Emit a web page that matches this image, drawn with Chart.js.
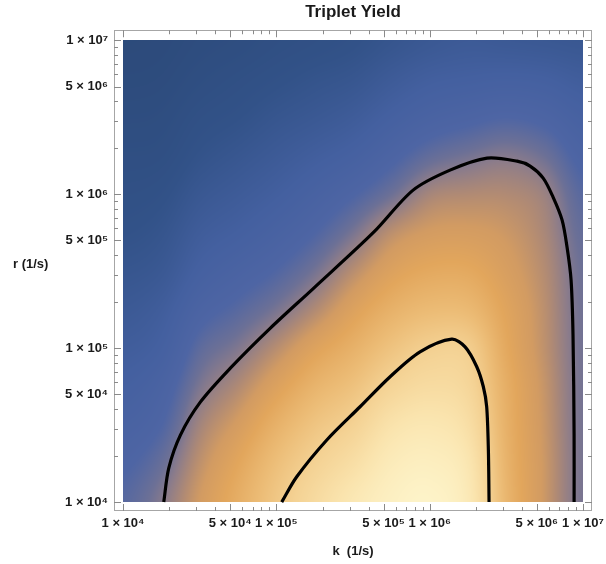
<!DOCTYPE html>
<html>
<head>
<meta charset="utf-8">
<title>Triplet Yield</title>
<script src="https://cdn.jsdelivr.net/npm/chart.js@4.4.1/dist/chart.umd.min.js"></script>
<style>
  html, body { margin: 0; padding: 0; background: #fff; }
  #wrap { width: 606px; height: 564px; }
</style>
</head>
<body>
<div id="wrap"><canvas id="myChart" width="606" height="564"></canvas></div>
<script>
// density grid, quarter-decade steps in k (columns) and r (rows, bottom to top)
const gridK = [1e4, 1.778e4, 3.162e4, 5.623e4, 1e5, 1.778e5, 3.162e5, 5.623e5, 1e6, 1.778e6, 3.162e6, 5.623e6, 1e7];
const gridR = [1e4, 1.778e4, 3.162e4, 5.623e4, 1e5, 1.778e5, 3.162e5, 5.623e5, 1e6, 1.778e6, 3.162e6, 5.623e6, 1e7];
const yieldGrid = [
  [0.42, 0.49, 0.60, 0.69, 0.78, 0.86, 0.93, 0.98, 1.00, 0.94, 0.72, 0.59, 0.475],
  [0.39, 0.45, 0.57, 0.66, 0.75, 0.82, 0.88, 0.95, 0.97, 0.92, 0.71, 0.59, 0.475],
  [0.35, 0.40, 0.53, 0.61, 0.70, 0.77, 0.82, 0.90, 0.925, 0.88, 0.70, 0.585, 0.472],
  [0.31, 0.36, 0.48, 0.55, 0.635, 0.71, 0.76, 0.83, 0.865, 0.84, 0.69, 0.58, 0.47],
  [0.27, 0.31, 0.43, 0.485, 0.56, 0.64, 0.70, 0.765, 0.81, 0.805, 0.67, 0.57, 0.468],
  [0.23, 0.27, 0.37, 0.42, 0.475, 0.55, 0.635, 0.70, 0.735, 0.73, 0.65, 0.565, 0.465],
  [0.19, 0.22, 0.31, 0.36, 0.405, 0.47, 0.56, 0.635, 0.67, 0.67, 0.62, 0.555, 0.46],
  [0.15, 0.18, 0.26, 0.30, 0.345, 0.40, 0.475, 0.565, 0.605, 0.61, 0.59, 0.54, 0.445],
  [0.12, 0.14, 0.21, 0.25, 0.29, 0.34, 0.395, 0.46, 0.535, 0.55, 0.55, 0.52, 0.42],
  [0.09, 0.10, 0.16, 0.20, 0.24, 0.28, 0.32, 0.38, 0.44, 0.47, 0.49, 0.46, 0.38],
  [0.06, 0.07, 0.12, 0.15, 0.19, 0.22, 0.255, 0.31, 0.355, 0.38, 0.40, 0.38, 0.33],
  [0.03, 0.04, 0.08, 0.11, 0.14, 0.17, 0.195, 0.245, 0.285, 0.30, 0.31, 0.30, 0.27],
  [0.01, 0.02, 0.05, 0.07, 0.10, 0.12, 0.145, 0.185, 0.22, 0.24, 0.23, 0.22, 0.21]
];

// contour lines
const outerK = [1.843e4, 1.987e4, 2.366e4, 3.19e4, 5.01e4, 9.14e4, 1.754e5, 4.315e5, 7.8e5, 1.358e6, 2.366e6, 3.715e6, 4.52e6, 5.5e6, 6.38e6, 7.31e6, 7.87e6, 8.36e6, 8.61e6, 8.75e6, 8.75e6];
const outerR = [1e4, 1.663e4, 2.723e4, 4.456e4, 7.41e4, 1.349e5, 2.455e5, 5.66e5, 1.062e6, 1.432e6, 1.714e6, 1.637e6, 1.521e6, 1.271e6, 9.57e5, 6.78e5, 4.53e5, 2.77e5, 1.213e5, 2.72e4, 1e4];
const innerK = [1.084e5, 1.358e5, 2.133e5, 3.516e5, 5.52e5, 8.65e5, 1.393e6, 1.702e6, 2.028e6, 2.239e6, 2.355e6, 2.415e6, 2.44e6];
const innerR = [1e4, 1.459e4, 2.53e4, 4.16e4, 6.52e4, 9.46e4, 1.143e5, 1.019e5, 7.57e4, 5.61e4, 4.16e4, 2.18e4, 1e4];

// tick labels
const kTickLabels = [1e4, 5e4, 1e5, 5e5, 1e6, 5e6, 1e7];
const rTickLabels = [1e4, 5e4, 1e5, 5e5, 1e6, 5e6, 1e7];

const FONT = "'Liberation Sans', Arial, sans-serif";
const kMin = 8.73e3, kMax = 1.145e7, rMin = 8.75e3, rMax = 1.16e7;

const colorStops = [
  [0.00, [44, 74, 122]],
  [0.15, [50, 82, 136]],
  [0.30, [68, 96, 160]],
  [0.40, [78, 101, 164]],
  [0.46, [108, 112, 150]],
  [0.50, [140, 124, 138]],
  [0.55, [176, 138, 116]],
  [0.60, [210, 155, 98]],
  [0.66, [226, 166, 92]],
  [0.74, [236, 188, 118]],
  [0.82, [244, 210, 148]],
  [0.91, [250, 228, 174]],
  [1.00, [253, 243, 200]]
];

function colorFor(v) {
  if (v <= colorStops[0][0]) return colorStops[0][1];
  for (let i = 1; i < colorStops.length; i++) {
    if (v <= colorStops[i][0]) {
      const a = colorStops[i - 1], b = colorStops[i];
      const t = (v - a[0]) / (b[0] - a[0]);
      return [0, 1, 2].map(c => a[1][c] + (b[1][c] - a[1][c]) * t);
    }
  }
  return colorStops[colorStops.length - 1][1];
}

function cubic(p0, p1, p2, p3, t) {
  return p1 + 0.5 * t * (p2 - p0 + t * (2 * p0 - 5 * p1 + 4 * p2 - p3 + t * (3 * (p1 - p2) + p3 - p0)));
}

function sampleYield(fx, fy) {
  const nx = gridK.length, ny = gridR.length;
  const cx = i => Math.max(0, Math.min(nx - 1, i));
  const cy = j => Math.max(0, Math.min(ny - 1, j));
  const ix = Math.max(0, Math.min(Math.floor(fx), nx - 2));
  const iy = Math.max(0, Math.min(Math.floor(fy), ny - 2));
  const tx = fx - ix, ty = fy - iy;
  const row = j => {
    const r = yieldGrid[cy(j)];
    return cubic(r[cx(ix - 1)], r[cx(ix)], r[cx(ix + 1)], r[cx(ix + 2)], tx);
  };
  return cubic(row(iy - 1), row(iy), row(iy + 1), row(iy + 2), ty);
}

const sup = { 4: '\u2074', 5: '\u2075', 6: '\u2076', 7: '\u2077' };
function sciLabel(v) {
  const e = Math.floor(Math.log10(v) + 1e-9);
  const m = Math.round(v / Math.pow(10, e));
  return m + ' \u00d7 10' + sup[e];
}

const allTicks = [];
for (let e = 4; e <= 6; e++) {
  for (let m = 1; m <= 9; m++) allTicks.push(m * Math.pow(10, e));
}
allTicks.push(1e7);

const isLabelled = (v, list) => list.some(t => Math.abs(t - v) / t < 1e-6);

let heatCache = null;
const densityPlugin = {
  id: 'density',
  beforeDatasetsDraw(chart) {
    const xs = chart.scales.x, ys = chart.scales.y, ctx = chart.ctx;
    const x0 = Math.round(xs.getPixelForValue(gridK[0]));
    const x1 = Math.round(xs.getPixelForValue(gridK[gridK.length - 1]));
    const y0 = Math.round(ys.getPixelForValue(gridR[gridR.length - 1]));
    const y1 = Math.round(ys.getPixelForValue(gridR[0]));
    const w = x1 - x0, h = y1 - y0;
    if (!heatCache) {
      const lk0 = Math.log10(gridK[0]), lkN = Math.log10(gridK[gridK.length - 1]);
      const lr0 = Math.log10(gridR[0]), lrN = Math.log10(gridR[gridR.length - 1]);
      const off = document.createElement('canvas');
      off.width = w; off.height = h;
      const octx = off.getContext('2d');
      const img = octx.createImageData(w, h);
      for (let py = 0; py < h; py++) {
        const lr = Math.log10(ys.getValueForPixel(y0 + py + 0.5));
        const fy = (lr - lr0) / (lrN - lr0) * (gridR.length - 1);
        for (let px = 0; px < w; px++) {
          const lk = Math.log10(xs.getValueForPixel(x0 + px + 0.5));
          const fx = (lk - lk0) / (lkN - lk0) * (gridK.length - 1);
          const c = colorFor(sampleYield(fx, fy));
          const i = (py * w + px) * 4;
          img.data[i] = c[0]; img.data[i + 1] = c[1]; img.data[i + 2] = c[2]; img.data[i + 3] = 255;
        }
      }
      octx.putImageData(img, 0, 0);
      heatCache = off;
    }
    ctx.drawImage(heatCache, x0, y0);
  }
};

const framePlugin = {
  id: 'frame',
  afterDraw(chart) {
    const ctx = chart.ctx, a = chart.chartArea;
    const xs = chart.scales.x, ys = chart.scales.y;
    ctx.save();
    ctx.strokeStyle = '#a6a6a6';
    ctx.lineWidth = 1;
    ctx.strokeRect(Math.round(a.left) + 0.5, Math.round(a.top) + 0.5,
      Math.round(a.right - a.left) - 1, Math.round(a.bottom - a.top) - 1);
    ctx.strokeStyle = '#8a8a8a';
    ctx.beginPath();
    allTicks.forEach(v => {
      const px = Math.round(xs.getPixelForValue(v)) + 0.5;
      const lx = isLabelled(v, kTickLabels) ? 7 : 4;
      ctx.moveTo(px, a.bottom); ctx.lineTo(px, a.bottom - lx);
      ctx.moveTo(px, a.top); ctx.lineTo(px, a.top + lx);
      const py = Math.round(ys.getPixelForValue(v)) + 0.5;
      const ly = isLabelled(v, rTickLabels) ? 7 : 4;
      ctx.moveTo(a.left, py); ctx.lineTo(a.left + ly, py);
      ctx.moveTo(a.right, py); ctx.lineTo(a.right - ly, py);
    });
    ctx.stroke();
    ctx.fillStyle = '#1a1a1a';
    ctx.font = 'bold 13px ' + FONT;
    ctx.textAlign = 'left';
    ctx.textBaseline = 'middle';
    ctx.fillText('r (1/s)', 13, 264);
    ctx.restore();
  }
};

const toPoints = (ks, rs) => ks.map((k, i) => ({ x: k, y: rs[i] }));

const ctx = document.getElementById('myChart').getContext('2d');
const myChart = new Chart(ctx, {
  type: 'scatter',
  data: {
    datasets: [
      {
        label: 'outer contour',
        data: toPoints(outerK, outerR),
        showLine: true,
        borderColor: '#000',
        borderWidth: 3.2,
        pointRadius: 0,
        tension: 0.3,
        fill: false
      },
      {
        label: 'inner contour',
        data: toPoints(innerK, innerR),
        showLine: true,
        borderColor: '#000',
        borderWidth: 3.2,
        pointRadius: 0,
        tension: 0.3,
        fill: false
      }
    ]
  },
  options: {
    responsive: false,
    animation: false,
    layout: { padding: { left: 0, right: 14, top: 0, bottom: 0 } },
    plugins: {
      legend: { display: false },
      tooltip: { enabled: false },
      title: {
        display: true,
        fullSize: false,
        text: 'Triplet Yield',
        color: '#1a1a1a',
        font: { family: FONT, size: 17, weight: 'bold', lineHeight: 1.25 },
        padding: { top: 2, bottom: 7 }
      }
    },
    scales: {
      x: {
        type: 'logarithmic',
        position: 'bottom',
        min: kMin,
        max: kMax,
        afterBuildTicks: s => { s.ticks = allTicks.map(v => ({ value: v })); },
        afterFit: s => { s.height = 53; s.paddingLeft = 0; s.paddingRight = 0; },
        grid: { display: false, drawTicks: false },
        border: { display: false },
        ticks: {
          autoSkip: false,
          maxRotation: 0,
          padding: 5,
          color: '#1a1a1a',
          font: { family: FONT, size: 13, weight: 'bold' },
          callback: v => isLabelled(v, kTickLabels) ? sciLabel(v) : ''
        },
        title: {
          display: true,
          text: 'k  (1/s)',
          color: '#1a1a1a',
          font: { family: FONT, size: 13, weight: 'bold' },
          padding: { top: 0, bottom: 5 }
        }
      },
      y: {
        type: 'logarithmic',
        position: 'left',
        min: rMin,
        max: rMax,
        afterBuildTicks: s => { s.ticks = allTicks.map(v => ({ value: v })); },
        afterFit: s => { s.width = 114; s.paddingTop = 0; s.paddingBottom = 0; },
        grid: { display: false, drawTicks: false },
        border: { display: false },
        ticks: {
          autoSkip: false,
          padding: 6,
          color: '#1a1a1a',
          font: { family: FONT, size: 13, weight: 'bold' },
          callback: v => isLabelled(v, rTickLabels) ? sciLabel(v) : ''
        }
      }
    }
  },
  plugins: [densityPlugin, framePlugin]
});
</script>
</body>
</html>
